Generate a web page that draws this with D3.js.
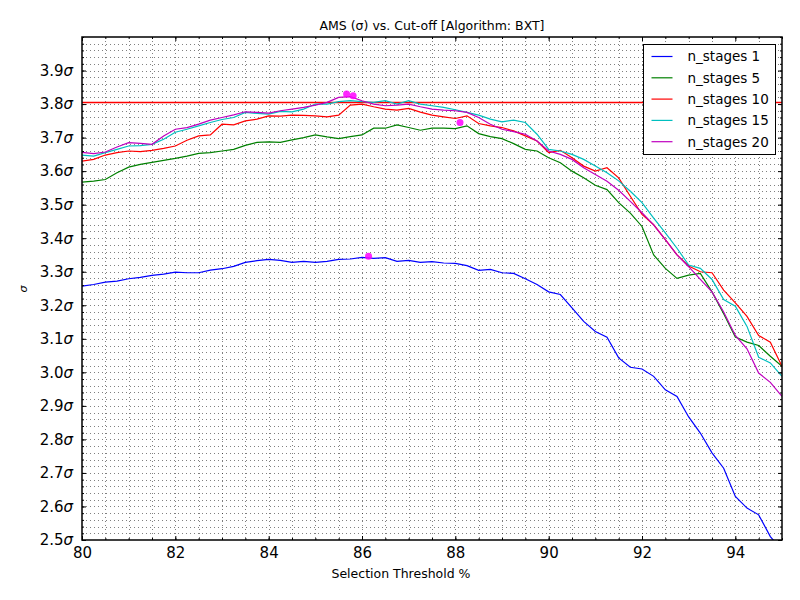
<!DOCTYPE html>
<html>
<head>
<meta charset="utf-8">
<script src="https://cdn.jsdelivr.net/npm/d3@7"></script>
<style>
    body { margin: 0; background: #fff; }
    svg { display: block; font-family: 'DejaVu Sans', sans-serif; }
</style>
</head>
<body>
<svg></svg>
<script>
const thresholds = [80, 80.25, 80.5, 80.75, 81, 81.25, 81.5, 81.75, 82, 82.25, 82.5, 82.75,
    83, 83.25, 83.5, 83.75, 84, 84.25, 84.5, 84.75, 85, 85.25, 85.5, 85.75,
    86, 86.25, 86.5, 86.75, 87, 87.25, 87.5, 87.75, 88, 88.25, 88.5, 88.75,
    89, 89.25, 89.5, 89.75, 90, 90.25, 90.5, 90.75, 91, 91.25, 91.5, 91.75,
    92, 92.25, 92.5, 92.75, 93, 93.25, 93.5, 93.75, 94, 94.25, 94.5, 94.75, 95];

const stages1 = [3.257, 3.262, 3.269, 3.272, 3.279, 3.283, 3.289, 3.293, 3.299, 3.297, 3.297, 3.305,
    3.309, 3.316, 3.328, 3.333, 3.337, 3.334, 3.328, 3.331, 3.328, 3.331, 3.337, 3.338,
    3.343, 3.340, 3.342, 3.331, 3.334, 3.328, 3.330, 3.326, 3.325, 3.318, 3.304, 3.307,
    3.297, 3.295, 3.279, 3.262, 3.240, 3.232, 3.192, 3.152, 3.122, 3.105, 3.043, 3.015,
    3.010, 2.988, 2.948, 2.928, 2.867, 2.819, 2.760, 2.714, 2.630, 2.595, 2.575, 2.510, 2.470];

const stages5 = [3.567, 3.570, 3.575, 3.595, 3.612, 3.620, 3.626, 3.632, 3.638, 3.645, 3.653, 3.655,
    3.660, 3.665, 3.677, 3.686, 3.687, 3.686, 3.693, 3.700, 3.708, 3.702, 3.697, 3.703,
    3.708, 3.728, 3.728, 3.738, 3.730, 3.722, 3.728, 3.728, 3.727, 3.735, 3.712, 3.703,
    3.697, 3.682, 3.665, 3.660, 3.640, 3.625, 3.600, 3.580, 3.558, 3.545, 3.506, 3.475,
    3.435, 3.350, 3.310, 3.280, 3.290, 3.295, 3.240, 3.175, 3.105, 3.090, 3.080, 3.048, 3.018];

const stages10 = [3.630, 3.635, 3.648, 3.655, 3.660, 3.658, 3.662, 3.668, 3.675, 3.692, 3.705, 3.708,
    3.740, 3.738, 3.750, 3.755, 3.765, 3.764, 3.767, 3.766, 3.765, 3.762, 3.767, 3.797,
    3.800, 3.792, 3.785, 3.782, 3.787, 3.776, 3.767, 3.762, 3.757, 3.765, 3.742, 3.735,
    3.730, 3.720, 3.705, 3.690, 3.655, 3.662, 3.640, 3.615, 3.600, 3.610, 3.580, 3.525,
    3.471, 3.440, 3.396, 3.350, 3.317, 3.300, 3.297, 3.245, 3.207, 3.167, 3.110, 3.090, 3.018];

const stages15 = [3.648, 3.645, 3.655, 3.665, 3.675, 3.676, 3.680, 3.695, 3.716, 3.725, 3.735, 3.745,
    3.754, 3.760, 3.775, 3.772, 3.770, 3.778, 3.777, 3.785, 3.800, 3.800, 3.807, 3.810,
    3.807, 3.805, 3.810, 3.800, 3.810, 3.800, 3.795, 3.790, 3.783, 3.775, 3.767, 3.755,
    3.747, 3.752, 3.745, 3.710, 3.665, 3.660, 3.650, 3.635, 3.615, 3.595, 3.571, 3.540,
    3.506, 3.460, 3.416, 3.370, 3.320, 3.310, 3.277, 3.217, 3.197, 3.137, 3.045, 3.028, 2.988];

const stages20 = [3.656, 3.652, 3.657, 3.672, 3.685, 3.683, 3.680, 3.705, 3.725, 3.730, 3.740, 3.752,
    3.760, 3.768, 3.777, 3.775, 3.773, 3.780, 3.785, 3.790, 3.797, 3.805, 3.820, 3.822,
    3.810, 3.800, 3.795, 3.797, 3.800, 3.792, 3.785, 3.782, 3.780, 3.775, 3.760, 3.740,
    3.725, 3.718, 3.710, 3.690, 3.660, 3.650, 3.635, 3.610, 3.590, 3.570, 3.543, 3.510,
    3.476, 3.440, 3.396, 3.350, 3.315, 3.277, 3.240, 3.180, 3.110, 3.070, 2.998, 2.970, 2.928];

const seriesNames = ['n_stages 1', 'n_stages 5', 'n_stages 10', 'n_stages 15', 'n_stages 20'];
const seriesColors = ['#0000ff', '#008000', '#ff0000', '#00bfbf', '#bf00bf'];

// best cut-off markers
const peakX = [85.67, 85.81, 86.14, 88.1];
const peakY = [3.830, 3.825, 3.346, 3.745];

const refLine = 3.807;

const xTicks = [80, 82, 84, 86, 88, 90, 92, 94];
const yTicks = [2.5, 2.6, 2.7, 2.8, 2.9, 3.0, 3.1, 3.2, 3.3, 3.4, 3.5, 3.6, 3.7, 3.8, 3.9];


const svg = d3.select('svg')
    .attr('width', 800)
    .attr('height', 600);

const margins = {top: 37, right: 18, bottom: 60, left: 82};
const width = +svg.attr('width') - margins.left - margins.right;
const height = +svg.attr('height') - margins.top - margins.bottom;

const x = d3.scaleLinear().domain([80, 95]).range([0, width]);
const y = d3.scaleLinear().domain([2.5, 4.0]).range([height, 0]);

const plot = svg.append('g')
    .attr('transform', `translate(${margins.left}, ${margins.top})`);

svg.append('defs').append('clipPath').attr('id', 'clip')
    .append('rect').attr('width', width).attr('height', height);

// dotted grid, major + minor
const xMinor = d3.range(80, 95.001, 0.5);
const yMinor = d3.range(2.5, 4.0001, 0.02);

const grid = plot.append('g').attr('class', 'grid');
grid.selectAll('.gx').data(xMinor.filter(v => v > 80 && v < 95)).enter().append('line')
    .attr('x1', d => Math.round(x(d)) + 0.5).attr('x2', d => Math.round(x(d)) + 0.5)
    .attr('y1', 0).attr('y2', height);
grid.selectAll('.gy').data(yMinor.filter(v => v > 2.5001 && v < 3.9999)).enter().append('line')
    .attr('y1', d => Math.round(y(d)) + 0.5).attr('y2', d => Math.round(y(d)) + 0.5)
    .attr('x1', 0).attr('x2', width);
grid.selectAll('line')
    .attr('stroke', '#000')
    .attr('stroke-width', 0.5)
    .attr('stroke-dasharray', '1,3');

// reference line
plot.append('line')
    .attr('x1', 0).attr('x2', width)
    .attr('y1', Math.round(y(refLine)) + 0.5).attr('y2', Math.round(y(refLine)) + 0.5)
    .attr('stroke', '#ff0000')
    .attr('stroke-width', 1.3);

const line = d3.line()
    .x(d => x(d[0]))
    .y(d => y(d[1]));

const allSeries = [stages1, stages5, stages10, stages15, stages20];
const lines = plot.append('g').attr('clip-path', 'url(#clip)');
allSeries.forEach((s, i) => {
    lines.append('path')
        .datum(thresholds.map((t, j) => [t, s[j]]))
        .attr('d', line)
        .attr('fill', 'none')
        .attr('stroke', seriesColors[i])
        .attr('stroke-width', 1.2);
});

lines.selectAll('circle').data(peakX).enter().append('circle')
    .attr('cx', d => x(d))
    .attr('cy', (d, i) => y(peakY[i]))
    .attr('r', 3.5)
    .attr('fill', '#ff00ff')
    .attr('opacity', 0.85);

// axes with inward ticks on all four sides
function sigmaLabels(g) {
    g.selectAll('text').each(function (d) {
        const t = d3.select(this);
        t.text(null);
        t.append('tspan').text(d.toFixed(1));
        t.append('tspan').attr('font-style', 'italic').text('σ');
    });
}

function styleAxis(g) {
    g.select('.domain').remove();
    g.selectAll('line').attr('stroke', '#000').attr('stroke-width', 1);
    g.selectAll('text').attr('font-size', 15).attr('fill', '#000')
        .attr('font-family', "'DejaVu Sans', sans-serif");
}

plot.append('g')
    .attr('transform', `translate(0, ${height})`)
    .call(d3.axisBottom(x).tickValues(xTicks).tickSizeInner(-4).tickSizeOuter(0).tickPadding(7))
    .call(styleAxis);
plot.append('g')
    .attr('transform', `translate(0, ${height})`)
    .call(d3.axisBottom(x).tickValues(xMinor).tickSizeInner(-2).tickSizeOuter(0).tickFormat(''))
    .call(styleAxis);
plot.append('g')
    .call(d3.axisTop(x).tickValues(xTicks).tickSizeInner(-4).tickSizeOuter(0).tickFormat(''))
    .call(styleAxis);
plot.append('g')
    .call(d3.axisTop(x).tickValues(xMinor).tickSizeInner(-2).tickSizeOuter(0).tickFormat(''))
    .call(styleAxis);

plot.append('g')
    .call(d3.axisLeft(y).tickValues(yTicks).tickSizeInner(-4).tickSizeOuter(0).tickPadding(9))
    .call(styleAxis)
    .call(sigmaLabels);
plot.append('g')
    .call(d3.axisLeft(y).tickValues(yMinor).tickSizeInner(-2).tickSizeOuter(0).tickFormat(''))
    .call(styleAxis);
plot.append('g')
    .attr('transform', `translate(${width}, 0)`)
    .call(d3.axisRight(y).tickValues(yTicks).tickSizeInner(-4).tickSizeOuter(0).tickFormat(''))
    .call(styleAxis);
plot.append('g')
    .attr('transform', `translate(${width}, 0)`)
    .call(d3.axisRight(y).tickValues(yMinor).tickSizeInner(-2).tickSizeOuter(0).tickFormat(''))
    .call(styleAxis);

// frame
plot.append('rect')
    .attr('width', width).attr('height', height)
    .attr('fill', 'none')
    .attr('stroke', '#000')
    .attr('stroke-width', 1.5);

// titles
svg.append('text')
    .attr('x', margins.left + width / 2)
    .attr('y', 30)
    .attr('text-anchor', 'middle')
    .attr('font-size', 12.5)
    .text('AMS (σ) vs. Cut-off [Algorithm: BXT]');

svg.append('text')
    .attr('x', 401)
    .attr('y', 578)
    .attr('text-anchor', 'middle')
    .attr('font-size', 12.5)
    .text('Selection Threshold %');

svg.append('text')
    .attr('transform', 'translate(27, 289) rotate(-90)')
    .attr('text-anchor', 'middle')
    .attr('font-size', 11)
    .attr('font-style', 'italic')
    .text('σ');

// legend
const legend = svg.append('g').attr('transform', 'translate(643.5, 44.5)');
legend.append('rect')
    .attr('width', 132).attr('height', 110)
    .attr('fill', '#fff')
    .attr('stroke', '#000')
    .attr('stroke-width', 1);

const items = legend.selectAll('.item').data(seriesNames).enter().append('g')
    .attr('transform', (d, i) => `translate(0, ${12 + i * 21.3})`);
items.append('line')
    .attr('x1', 8).attr('x2', 29)
    .attr('stroke', (d, i) => seriesColors[i])
    .attr('stroke-width', 1.2);
items.append('text')
    .attr('x', 44)
    .attr('dy', '0.36em')
    .attr('font-size', 13.5)
    .text(d => d);
</script>
</body>
</html>
